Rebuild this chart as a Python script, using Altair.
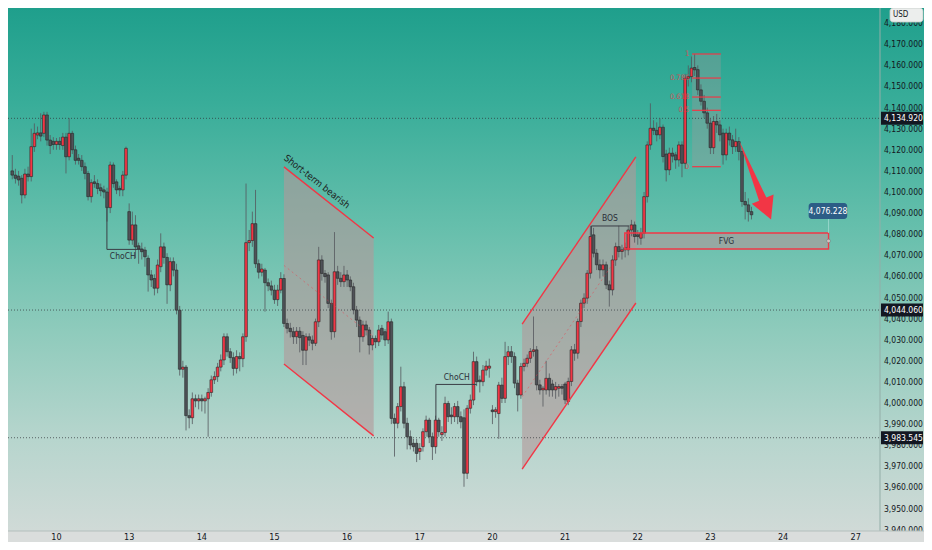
import altair as alt
import pandas as pd

# ---------------- candle data (hourly bars, index 0 = first bar of day 10) ----------------
FIRST_BAR = -14
opens = [
    4110, 4108, 4107.5, 4106.5, 4098.6, 4108.5, 4107.3, 4121.5, 4127, 4128,
    4127.8, 4136.5, 4124.6, 4124, 4122.5, 4124, 4122, 4126, 4116.7, 4127.8,
    4120, 4116, 4115, 4112, 4108.8, 4097.8, 4104.8, 4104, 4102, 4101,
    4100, 4092.6, 4112.8, 4104.8, 4101.7, 4101, 4108,
    4090.7, 4077.2, 4084.4, 4074.5, 4073, 4072.5, 4068.6, 4060.7, 4059, 4054.4,
    4064.6, 4074, 4069, 4056, 4067, 4063, 4044, 4016, 4017, 3994,
    3993, 4002, 4001, 4002, 4001, 4002, 4005, 4011, 4012.5, 4017,
    4020.4, 4031.4, 4024.3, 4021.5, 4016.4, 4022, 4021, 4031.4, 4076, 4077,
    4085, 4066, 4062, 4063, 4057, 4055.5, 4053.5, 4049, 4053.5, 4059,
    4037.7, 4035.4, 4033.8, 4031.4, 4034, 4032, 4025, 4031.4, 4029.8, 4028.3,
    4038.5, 4067.8, 4061.4, 4060.7, 4047.2, 4033.8, 4062.2, 4059.1, 4057.5, 4060.7,
    4058.3, 4055.1, 4044.1, 4039.3, 4031.4, 4037, 4034.6, 4027.5, 4030.6, 4029,
    4035.4, 4033.8, 4029.9, 4038.5, 3992.7, 3990.4, 3998.3, 4007.7, 3990.4, 3984,
    3980.9, 3980.9, 3977, 3979.3, 3986.4, 3991.9, 3984, 3979.3, 3991.9, 3985,
    3986, 3999.8, 3994.3, 3993.5, 3998.3, 3993.5, 3993, 3966.7, 3997.5, 4001.4,
    4019.6, 4010.9, 4010.1, 4015.6, 4016.5, 3996.7, 3995.9, 3995, 4008.5, 4002.2,
    4022, 4024.3, 4022, 4009.4, 4003.8, 4017.3, 4018.8, 4021.2, 4024.4, 4025.2,
    4008.6, 4006.2, 4006.2, 4011.7, 4009, 4006.2, 4007, 4007.8, 4009, 4000.7,
    4010.2, 4025.2, 4023.6, 4038.6, 4047.3, 4049.7, 4061.5, 4079.7, 4071, 4065.5,
    4063.1, 4065.5, 4056, 4053.6, 4067.8, 4074.1, 4071.8, 4072.6, 4072.6, 4082,
    4084.4, 4079.7, 4078.1, 4080.5, 4097.8, 4122.3, 4130.2, 4129.2, 4127.1, 4130.7,
    4118, 4110.5, 4118.4, 4117.6, 4115.2, 4122.3, 4113.6, 4153.9, 4154.7, 4159,
    4158, 4148.4, 4143, 4137.5, 4132.6, 4121, 4133.4, 4131.8, 4127.9, 4117.6,
    4127.9, 4124.7, 4121.5, 4123.9, 4119.2, 4095.5, 4093.9, 4090.7,
]
highs = [
    4117.5, 4111, 4110, 4108, 4111, 4112, 4130, 4132.5, 4131, 4137.3,
    4138, 4138, 4127, 4126, 4125.6, 4126, 4128, 4128, 4135, 4129,
    4122, 4118, 4117.5, 4114, 4110, 4106, 4108, 4106, 4104, 4103,
    4102, 4114.4, 4114, 4106, 4103, 4110, 4121.5,
    4094.6, 4090.7, 4089, 4076, 4076, 4074, 4070, 4063, 4061, 4068,
    4080.4, 4076, 4071, 4069, 4069, 4066, 4046, 4020, 4018, 3997,
    4005, 4004, 4004, 4004, 4003, 4007, 4013, 4015, 4019, 4023,
    4033, 4033, 4026, 4024, 4025, 4024, 4033, 4104, 4082, 4090.7,
    4101, 4068, 4066, 4064, 4059, 4058, 4056, 4056, 4062, 4061,
    4040, 4038, 4036, 4036, 4036, 4034, 4033, 4033, 4032, 4040,
    4074, 4070, 4063, 4062, 4049, 4081, 4065, 4062, 4065, 4063,
    4060, 4057, 4046, 4041, 4039, 4039, 4036, 4032, 4032, 4037,
    4037, 4035, 4043.3, 4040, 3995, 4000, 4017.2, 4010, 3993, 3987,
    3983, 3983, 3981, 3988, 3994, 3993, 3986, 3994, 3993, 3989,
    4003, 4001, 3998, 4000, 4001, 3996, 3997, 3999, 4004, 4024.3,
    4022, 4013, 4018, 4020, 4021, 3999, 3998, 4010, 4012, 4029,
    4027, 4027, 4024, 4011, 4019, 4021, 4023, 4026, 4041, 4027,
    4011, 4008, 4020, 4014, 4011, 4010, 4009, 4009, 4010, 4012,
    4027, 4028, 4040, 4049, 4052, 4063, 4084, 4083, 4073, 4068,
    4068, 4067, 4058, 4070, 4076, 4084, 4075, 4076, 4084, 4086.8,
    4086, 4082, 4083, 4100, 4124, 4142, 4134, 4133, 4135, 4132,
    4120, 4121, 4121, 4119, 4124, 4124, 4156, 4160, 4164.2, 4165.4,
    4160, 4151, 4146, 4140, 4135, 4136, 4137, 4134, 4130, 4130,
    4131, 4127, 4130, 4126, 4121, 4100, 4097, 4093,
]
lows = [
    4106, 4104, 4103, 4094.6, 4097, 4105, 4105, 4119, 4125, 4124,
    4126, 4122, 4118, 4120, 4120, 4120, 4120, 4108.8, 4115, 4118,
    4113, 4113, 4110, 4106, 4096, 4095, 4102, 4099, 4098, 4097,
    4086, 4090, 4102, 4099, 4098, 4098, 4106,
    4075, 4075, 4068.6, 4066, 4068, 4064.6, 4052.8, 4055, 4051, 4052,
    4062, 4066, 4047, 4053, 4060, 4042, 4013, 4012, 3987, 3988,
    3990, 3998, 3997, 3996, 3995, 3984, 4003, 4009, 4010, 4015,
    4018, 4022, 4019, 4013, 4014, 4015, 4017, 4029, 4072, 4074,
    4064, 4059, 4060, 4043.3, 4053, 4051, 4047, 4046, 4052, 4036,
    4033, 4031, 4028, 4028, 4024, 4018, 4018, 4027, 4025, 4027,
    4036, 4058, 4057, 4045, 4030, 4031, 4056, 4055, 4055, 4055,
    4053, 4042, 4036, 4024, 4029, 4032, 4023, 4025, 4026, 4027,
    4030, 4027, 4028, 3990, 3974.6, 3988, 3996, 3988, 3978, 3978,
    3977, 3972, 3973, 3977, 3984, 3981, 3973, 3976, 3984, 3982,
    3984, 3991, 3990, 3991, 3990, 3988, 3960.3, 3964, 3995, 3999,
    4008, 4005, 4008, 4013, 4012, 3990, 3993, 3983, 4000, 4000,
    4018, 4019, 4007, 3996, 4002, 4015, 4017, 4019, 4022, 4006,
    4004, 3998.3, 4004, 4003, 4003, 4002, 4003, 4004, 3999.5, 3999,
    4008, 4020, 4021, 4036, 4045, 4047, 4059, 4069, 4063, 4059,
    4060, 4054, 4045.7, 4051, 4065, 4069, 4068, 4069, 4070, 4079,
    4076, 4075, 4075, 4078, 4095, 4120, 4127, 4124, 4125, 4114,
    4105, 4108, 4114, 4111, 4112, 4107, 4111, 4150, 4152, 4155,
    4146, 4141, 4135, 4130, 4118, 4118, 4128, 4124, 4113, 4115,
    4122, 4118, 4119, 4115, 4093, 4087, 4086, 4087,
]
closes = [
    4108, 4106.5, 4105.7, 4098.6, 4108.5, 4107.3, 4121.5, 4127.8, 4128, 4126.5,
    4136.5, 4124.6, 4122, 4122.5, 4124, 4122.5, 4126, 4116.7, 4127.8, 4120,
    4115, 4115, 4112, 4108.8, 4097.8, 4104.4, 4104, 4101.7, 4100.6, 4100,
    4092.6, 4112.8, 4104, 4101, 4101, 4108, 4120.7,
    4077.2, 4084.4, 4074, 4073, 4071.7, 4069.3, 4060.7, 4058.3, 4054.4, 4065.4,
    4074, 4069, 4056, 4067, 4063, 4044, 4016, 4017, 3994, 3993,
    4002, 4001, 4002, 4001, 4002, 4005, 4011, 4012.5, 4017, 4020.4,
    4031.4, 4024.3, 4021.5, 4016.4, 4022, 4021, 4031.4, 4076, 4077, 4085,
    4066, 4062, 4063.5, 4057, 4055.5, 4053.5, 4049, 4053.5, 4059, 4037.7,
    4035.4, 4033.8, 4031.4, 4034, 4031, 4025, 4031.4, 4029.8, 4028.3, 4038.5,
    4067.8, 4061.4, 4059.9, 4047.2, 4033.8, 4062.2, 4059.1, 4057.5, 4060.7, 4058.3,
    4055.1, 4044.1, 4039.3, 4031.4, 4037, 4034.6, 4027.5, 4030.6, 4029, 4034.6,
    4032.2, 4029.9, 4038.5, 3992.7, 3990.4, 3998.3, 4007.7, 3990.4, 3984, 3980.1,
    3979.3, 3976.1, 3978.5, 3986.4, 3991.9, 3984, 3979.3, 3991.9, 3986.4, 3986,
    3999.8, 3993.5, 3993.5, 3998.3, 3993.5, 3991.1, 3966.7, 3997.5, 4001.4, 4019.6,
    4010.1, 4010.1, 4015.6, 4017.5, 4017.5, 3995.9, 3996.8, 4008.5, 4002.2, 4022,
    4024.3, 4022, 4009.4, 4003.8, 4017.3, 4018.8, 4021.2, 4024.4, 4025.2, 4008.6,
    4006.2, 4007, 4011.7, 4006.2, 4006.2, 4007.8, 4007.8, 4007, 4001.5, 4010.2,
    4025.2, 4023.6, 4038.6, 4047.3, 4049.7, 4061.5, 4078.9, 4071, 4065.5, 4063.1,
    4065.5, 4056, 4053.6, 4067.8, 4074.1, 4071.8, 4072.6, 4073.6, 4082, 4084.4,
    4078.9, 4078.9, 4080.5, 4097.8, 4122.3, 4130.2, 4129.2, 4127.1, 4130.7, 4116.8,
    4110.5, 4118.4, 4117, 4115.2, 4122.3, 4113.6, 4153.9, 4154.7, 4158.7, 4157.9,
    4148.4, 4143, 4137.5, 4132.6, 4121, 4133.4, 4131.8, 4127.1, 4117.6, 4127.9,
    4124.7, 4121.5, 4123.9, 4119.2, 4095.5, 4093.9, 4090.7, 4089.2,
]
assert len(opens) == len(highs) == len(lows) == len(closes)

# ---------------- axis labels ----------------
day_labels = ["10", "13", "14", "15", "16", "17", "20", "21", "22", "23", "24", "27"]
day_starts = [0, 23, 46, 69, 92, 115, 138, 161, 184, 207, 230, 253]
price_ticks = list(range(3940, 4190, 10))
marked_levels = [4134.92, 4044.06, 3983.545]

# ---------------- drawings ----------------
bear_x = [72.0, 100.4]
bear_top = [4111.9, 4078.2]
bear_bot = [4018.5, 3984.4]
bear_mid = [4065.2, 4031.3]
bull_x = [147.4, 183.4]
bull_top = [4037.4, 4116.6]
bull_bot = [3968.7, 4047.4]
bull_mid_x = [147.4, 177.7]
bull_mid = [4003.0, 4069.5]

fib_x = [201.2, 210.3]
fib_prices = [4165.4, 4154.0, 4145.0, 4138.7, 4112.0]
fib_labels = ["1", "0.786", "0.618", "0.5", "0"]

fvg_x = [179.9, 244.4]
fvg_p = [4073.0, 4080.6]

choch1_x = [15.96, 15.96, 27.5]
choch1_p = [4093.0, 4072.8, 4072.8]
choch2_x = [120.1, 120.1, 133.0]
choch2_p = [3991.9, 4008.8, 4008.8]
bos_x = [169.3, 169.3, 181.2]
bos_p = [4078.9, 4083.9, 4083.9]

arrow_x = [216.05, 222.4, 220.1, 226.2, 227.0, 224.7]
arrow_p = [4124.4, 4095.8, 4094.4, 4087.0, 4098.8, 4097.4]

target_label = "4,076.228"
target_x = [238.1, 250.3]
target_p = [4087.2, 4094.8]

# ---------------- layout / style ----------------
W, H = 872, 523
RIGHT, BOTTOM = 44, 11
X_DOM = [-13.77, 259.10]
Y_DOM = [3939.34, 4187.2]
UNITS_PER_PX = (Y_DOM[1] - Y_DOM[0]) / H
RED = "#f23645"
GRAY = "#4f5258"
DRAW_FILL = "#b3979a"
NARROW = "Liberation Sans Narrow, DejaVu Sans Condensed, Roboto, sans-serif"

xs = alt.Scale(domain=X_DOM, nice=False, zero=False)
ys = alt.Scale(domain=Y_DOM, nice=False, zero=False)


def X(f):
    return alt.X(f, type="quantitative", scale=xs, axis=None)


def X2(f):
    return alt.X2(f)


def Y(f):
    return alt.Y(f, type="quantitative", scale=ys, axis=None)


n = len(opens)
bars = pd.DataFrame({
    "i": list(range(FIRST_BAR, FIRST_BAR + n)),
    "o": opens, "h": highs, "l": lows, "c": closes,
})
bars["hi"] = bars[["h", "o", "c"]].max(axis=1)
bars["lo"] = bars[["l", "o", "c"]].min(axis=1)
bars["dir"] = ["up" if c >= o else "down" for o, c in zip(bars["o"], bars["c"])]

one = pd.DataFrame({"k": [0]})

# background gradient
bg = alt.Chart(one).mark_rect(
    color=alt.Gradient(
        gradient="linear",
        stops=[
            alt.GradientStop(color="#1f9f8c", offset=0),
            alt.GradientStop(color="#38ad99", offset=0.18),
            alt.GradientStop(color="#66bfac", offset=0.42),
            alt.GradientStop(color="#8fcbbc", offset=0.62),
            alt.GradientStop(color="#b6d5cd", offset=0.82),
            alt.GradientStop(color="#d0dad7", offset=1),
        ],
        x1=0, x2=0, y1=0, y2=1,
    )
).encode(x=alt.value(0), x2=alt.value(W + RIGHT), y=alt.value(0), y2=alt.value(H))

# channels
chan = pd.DataFrame({
    "x": bear_x + bull_x,
    "top": bear_top + bull_top,
    "bot": bear_bot + bull_bot,
    "g": ["bear", "bear", "bull", "bull"],
})
chan_fill = alt.Chart(chan).mark_area(color=DRAW_FILL, opacity=0.6).encode(
    x=X("x"), y=Y("top"), y2=alt.Y2("bot"), detail="g:N")

edge_rows = []
for g, xx, tt, bb in [("bear", bear_x, bear_top, bear_bot), ("bull", bull_x, bull_top, bull_bot)]:
    for k in range(2):
        edge_rows.append({"x": xx[k], "p": tt[k], "e": g + "_top"})
        edge_rows.append({"x": xx[k], "p": bb[k], "e": g + "_bot"})
edges = pd.DataFrame(edge_rows)
chan_lines = alt.Chart(edges).mark_line(color=RED, strokeWidth=1.4).encode(
    x=X("x"), y=Y("p"), detail="e:N")

mids = pd.DataFrame({
    "x": bear_x + bull_mid_x,
    "p": bear_mid + bull_mid,
    "e": ["bear", "bear", "bull", "bull"],
})
mid_lines = alt.Chart(mids).mark_line(color=RED, strokeWidth=1, strokeDash=[2, 3], opacity=0.45).encode(
    x=X("x"), y=Y("p"), detail="e:N")

# fib box
fib_box = alt.Chart(pd.DataFrame({"x": [fib_x[0]], "x2": [fib_x[1]], "p": [fib_prices[-1]], "p2": [fib_prices[0]]})).mark_rect(
    color=DRAW_FILL, opacity=0.3).encode(x=X("x"), x2=X2("x2"), y=Y("p"), y2=alt.Y2("p2"))
fib_df = pd.DataFrame({"p": fib_prices, "t": fib_labels, "x": [fib_x[0]] * 5, "x2": [fib_x[1]] * 5,
                       "lx": [fib_x[0] - 0.9] * 5})
fib_lines = alt.Chart(fib_df).mark_rule(color=RED, strokeWidth=1.3, opacity=0.9).encode(
    x=X("x"), x2=X2("x2"), y=Y("p"))
fib_text = alt.Chart(fib_df).mark_text(align="right", baseline="middle", font=NARROW, fontSize=7.5,
                                       color=RED, opacity=0.75).encode(x=X("lx"), y=Y("p"), text="t:N")

# FVG
fvg_df = pd.DataFrame({"x": [fvg_x[0]], "x2": [fvg_x[1]], "p": [fvg_p[0]], "p2": [fvg_p[1]]})
fvg_fill = alt.Chart(fvg_df).mark_rect(color=DRAW_FILL, opacity=0.6).encode(
    x=X("x"), x2=X2("x2"), y=Y("p"), y2=alt.Y2("p2"))
fvg_border = alt.Chart(fvg_df).mark_rect(fill=None, stroke=RED, strokeWidth=1.4, filled=False).encode(
    x=X("x"), x2=X2("x2"), y=Y("p"), y2=alt.Y2("p2"))

# level lines
lev_df = pd.DataFrame({"p": marked_levels, "t": [f"{v:,.3f}" for v in marked_levels]})
lev_df["lo"] = lev_df["p"] - 6.5 * UNITS_PER_PX
lev_df["hi"] = lev_df["p"] + 6.5 * UNITS_PER_PX
lev_lines = alt.Chart(lev_df).mark_rule(color="#2f3238", strokeDash=[1, 2], strokeWidth=1, opacity=0.7).encode(
    x=alt.value(0), x2=alt.value(W), y=Y("p"))

# candles
wicks = alt.Chart(bars).mark_rule(color="#55585e", strokeWidth=1, opacity=0.8).encode(
    x=X("i"), y=Y("lo"), y2=alt.Y2("hi"))
bodies = alt.Chart(bars).mark_bar(size=2.7, stroke="#262626", strokeWidth=0.6).encode(
    x=X("i"), y=Y("o"), y2=alt.Y2("c"),
    color=alt.Color("dir:N", scale=alt.Scale(domain=["up", "down"], range=[RED, GRAY]), legend=None))

# structure lines
path_rows = []
for name, xx, pp in [("c1", choch1_x, choch1_p), ("c2", choch2_x, choch2_p), ("b", bos_x, bos_p)]:
    for k in range(len(xx)):
        path_rows.append({"x": xx[k], "p": pp[k], "g": name, "k": k})
paths = alt.Chart(pd.DataFrame(path_rows)).mark_line(color="#3a3d45", strokeWidth=1).encode(
    x=X("x"), y=Y("p"), detail="g:N", order="k:Q")

notes = pd.DataFrame({
    "t": ["ChoCH", "ChoCH", "BOS", "FVG"],
    "x": [21.0, 126.7, 175.2, 212.1],
    "p": [4069.7, 4012.3, 4087.7, 4076.8],
})
note_text = alt.Chart(notes).mark_text(font=NARROW, fontSize=8.5, color="#2a2e39", baseline="middle").encode(
    x=X("x"), y=Y("p"), text="t:N")
bear_text = alt.Chart(pd.DataFrame({"t": ["Short-term bearish"], "x": [82.4], "p": [4104.9]})).mark_text(
    font=NARROW, fontSize=9.5, color="#1d2322", angle=38, baseline="middle").encode(
    x=X("x"), y=Y("p"), text="t:N")

# arrow
arrow = alt.Chart(pd.DataFrame({"x": arrow_x, "p": arrow_p, "k": list(range(len(arrow_x)))})).mark_line(
    filled=True, color=RED, strokeWidth=0.5).encode(x=X("x"), y=Y("p"), order="k:Q")

# target label
tgt_df = pd.DataFrame({"x": [target_x[0]], "x2": [target_x[1]], "p": [target_p[0]], "p2": [target_p[1]],
                       "cx": [sum(target_x) / 2], "cp": [sum(target_p) / 2], "t": [target_label]})
tgt_box = alt.Chart(tgt_df).mark_rect(color="#2c5d86", cornerRadius=3).encode(
    x=X("x"), x2=X2("x2"), y=Y("p"), y2=alt.Y2("p2"))
tgt_text = alt.Chart(tgt_df).mark_text(font=NARROW, fontSize=8.5, color="white", baseline="middle").encode(
    x=X("cx"), y=Y("cp"), text="t:N")
tgt_conn = alt.Chart(pd.DataFrame({"x": [fvg_x[1]], "p": [fvg_p[1]], "p2": [target_p[0]]})).mark_rule(
    color="#9ad8cd", strokeWidth=1, opacity=0.9).encode(x=X("x"), y=Y("p"), y2=alt.Y2("p2"))
handle = alt.Chart(pd.DataFrame({"x": [fvg_x[1]], "p": [sum(fvg_p) / 2]})).mark_point(
    shape="circle", size=14, filled=True, fill="#e4ebe9", stroke="#6d7a77", strokeWidth=0.8).encode(
    x=X("x"), y=Y("p"))

# right price axis
axis_line = alt.Chart(one).mark_rule(color="#93aea8", strokeWidth=1).encode(
    x=alt.value(W), y=alt.value(0), y2=alt.value(H))
tick_df = pd.DataFrame({"p": price_ticks, "t": [f"{v:,.3f}" for v in price_ticks]})
tick_text = alt.Chart(tick_df).mark_text(font=NARROW, fontSize=8.5, color="#131722", align="left",
                                         baseline="middle").encode(x=alt.value(W + 4), y=Y("p"), text="t:N")
lev_box = alt.Chart(lev_df).mark_rect(color="#131722").encode(
    x=alt.value(W + 1), x2=alt.value(W + RIGHT - 1), y=Y("lo"), y2=alt.Y2("hi"))
lev_text = alt.Chart(lev_df).mark_text(font=NARROW, fontSize=8.5, color="white", align="left",
                                       baseline="middle").encode(x=alt.value(W + 4), y=Y("p"), text="t:N")
usd_box = alt.Chart(one).mark_rect(color="#eceeed", stroke="#c5cac8", strokeWidth=0.8, cornerRadius=3).encode(
    x=alt.value(W + 10), x2=alt.value(W + RIGHT - 1), y=alt.value(0), y2=alt.value(14))
usd_text = alt.Chart(pd.DataFrame({"t": ["USD"]})).mark_text(font=NARROW, fontSize=8, color="#131722",
                                                             align="left", baseline="middle").encode(
    x=alt.value(W + 13), y=alt.value(7), text="t:N")

# bottom time axis
strip = alt.Chart(one).mark_rect(color="#dadddc").encode(
    x=alt.value(0), x2=alt.value(W + RIGHT), y=alt.value(H), y2=alt.value(H + BOTTOM))
strip_line = alt.Chart(one).mark_rule(color="#b4bfbc", strokeWidth=1).encode(
    x=alt.value(0), x2=alt.value(W + RIGHT), y=alt.value(H))
day_df = pd.DataFrame({"x": day_starts, "t": day_labels})
day_text = alt.Chart(day_df).mark_text(font=NARROW, fontSize=9, color="#131722", baseline="middle").encode(
    x=X("x"), y=alt.value(H + 6), text="t:N")

chart = alt.layer(
    bg, chan_fill, fib_box, fvg_fill, lev_lines,
    wicks, bodies,
    chan_lines, mid_lines, fib_lines, fib_text, fvg_border,
    paths, note_text, bear_text, arrow,
    tgt_conn, handle, tgt_box, tgt_text,
    axis_line, tick_text, lev_box, lev_text, usd_box, usd_text,
    strip, strip_line, day_text,
).properties(
    width=W, height=H,
    padding={"left": 0, "top": 0, "right": RIGHT, "bottom": BOTTOM},
    autosize=alt.AutoSizeParams(type="none"),
    background="#dadddc",
).configure_view(stroke=None)

chart.save("out.html", embed_options={"renderer": "svg", "actions": False})
